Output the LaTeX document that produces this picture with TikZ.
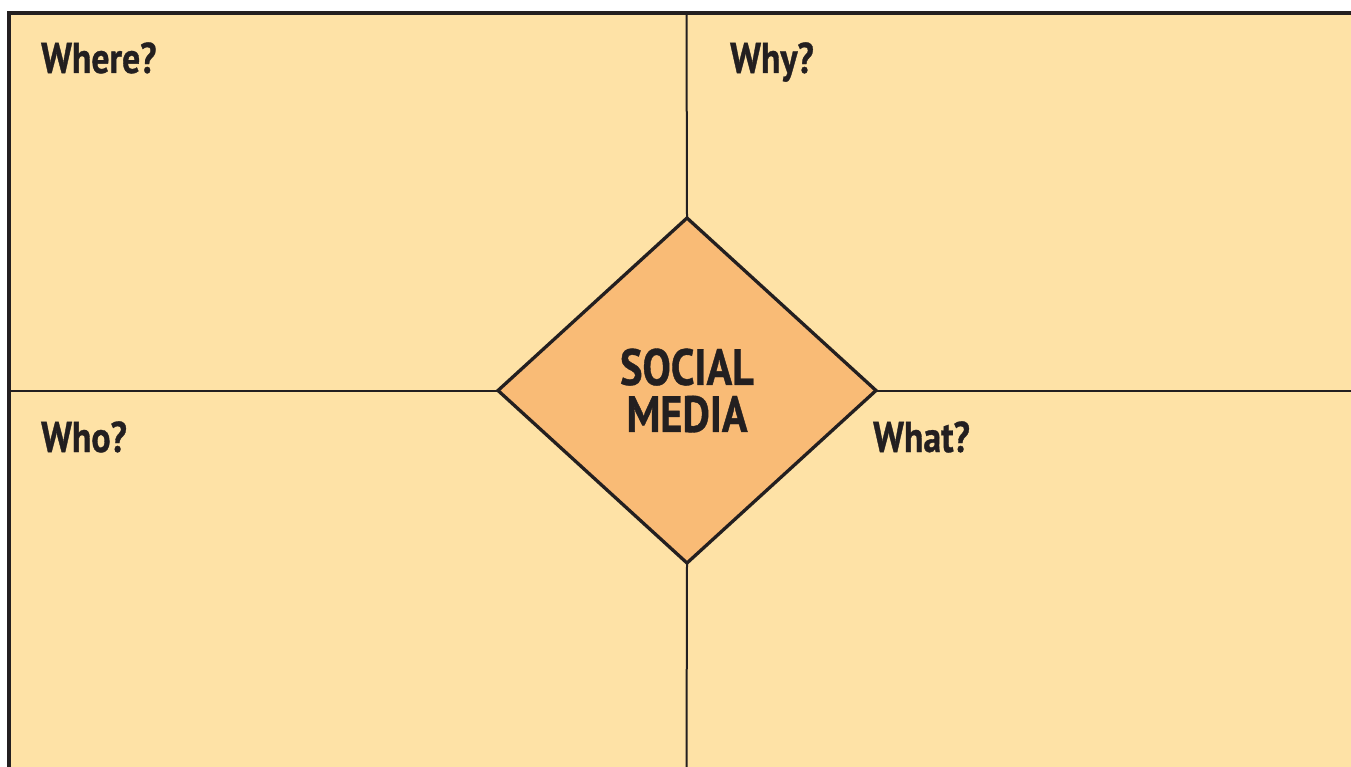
\documentclass[tikz,border=0pt]{standalone}
\usepackage{fontspec}
\usetikzlibrary{shapes.geometric}
\newfontfamily\condfont{PT Sans}[FakeStretch=0.83,FakeBold=0.8]
\definecolor{paper}{HTML}{FEE2A6}
\definecolor{diam}{HTML}{F9BB76}
\definecolor{ink}{HTML}{231F20}
\tikzset{
  quadlabel/.style={anchor=base west, inner sep=0pt, text=ink, font=\condfont\bfseries\fontsize{43}{47}\selectfont},
  divider/.style={draw=ink, line width=2pt},
  centerbox/.style={diamond, draw=ink, fill=diam, line width=3.3pt, inner sep=0pt, outer sep=0pt,
     minimum width=378pt, minimum height=345pt, aspect=1.0957, align=center, text=ink,
     font=\condfont\bfseries\fontsize{51}{47}\selectfont}
}
\begin{document}
\begin{tikzpicture}[x=1pt,y=-1pt]
\useasboundingbox (0,0) rectangle (1351,767);
\fill[paper] (9,13) rectangle (1351,767);
\draw[ink, line width=4pt] (9,767) -- (9,13) -- (1351,13);
\coordinate (topc) at (686.5,13);
\coordinate (botc) at (686.5,767);
\coordinate (leftc) at (9,390.5);
\coordinate (rightc) at (1351,390.5);
\node[centerbox] (sm) at (687,390.5) {SOCIAL\\MEDIA};
\draw[divider] (topc) -- (sm.north);
\draw[divider] (sm.south) -- (botc);
\draw[divider] (leftc) -- (sm.west);
\draw[divider] (sm.east) -- (rightc);
\node[quadlabel] (where) at (41,73) {Where?};
\node[quadlabel] (why) at (730,73) {Why?};
\node[quadlabel] (who) at (41,452) {Who?};
\node[quadlabel] (what) at (873,452) {What?};
\end{tikzpicture}
\end{document}
